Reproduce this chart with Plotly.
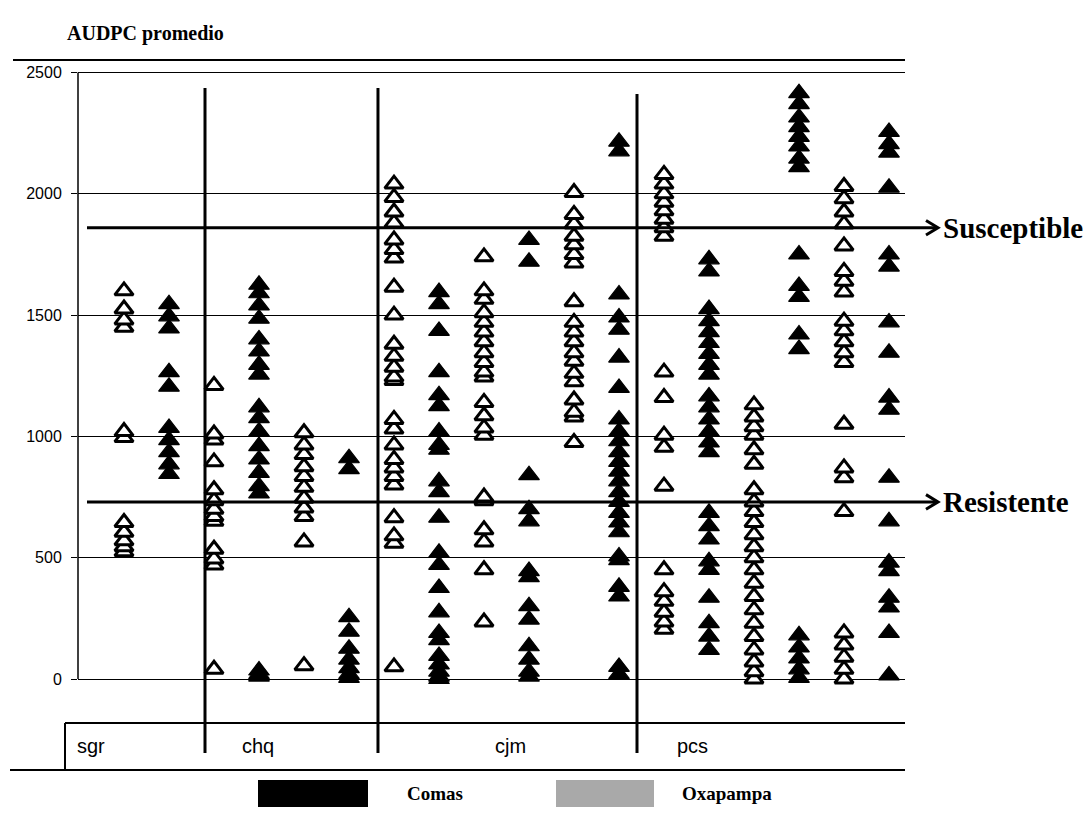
import plotly.graph_objects as go

# AUDPC promedio per clone, one list per column (Oxapampa = open, Comas = filled)
sgr_oxa = [1600, 1525, 1480, 1450, 1020, 995, 645, 605, 570, 545, 525]
sgr_comas = [1545, 1495, 1445, 1265, 1205, 1035, 985, 935, 885, 845]

chq_oxa_a = [1210, 1010, 985, 895, 780, 735, 700, 670, 650, 535, 495, 470, 40]
chq_comas_a = [1625, 1590, 1540, 1485, 1400, 1350, 1295, 1255, 1120, 1075, 1020,
               960, 905, 850, 795, 765, 35, 20, 10]
chq_oxa_b = [1015, 965, 925, 875, 835, 790, 745, 705, 670, 565, 55]
chq_comas_b = [910, 865, 255, 195, 125, 80, 45, 20, 5]

cjm_oxa_a = [2040, 1985, 1925, 1880, 1810, 1770, 1735, 1615, 1500, 1380, 1330, 1285,
             1245, 1230, 1070, 1030, 965, 905, 870, 835, 800, 665, 590, 560, 50]
cjm_comas_a = [1595, 1545, 1435, 1265, 1170, 1125, 1020, 965, 945, 815, 770, 665,
               520, 470, 375, 275, 190, 160, 95, 60, 30, 10, 0]
cjm_oxa_b = [1740, 1600, 1565, 1510, 1470, 1430, 1390, 1345, 1305, 1265, 1245, 1140,
             1085, 1035, 1005, 750, 735, 615, 565, 450, 235]
cjm_comas_b = [1810, 1720, 840, 700, 650, 445, 420, 300, 245, 135, 80, 30, 10]
cjm_oxa_c = [2005, 1915, 1875, 1825, 1790, 1750, 1715, 1555, 1470, 1430, 1390, 1345,
             1310, 1260, 1225, 1150, 1100, 1080, 975]
cjm_comas_c = [2215, 2175, 1585, 1490, 1440, 1325, 1200, 1070, 1020, 980, 935, 895,
               855, 815, 770, 730, 685, 645, 605, 505, 490, 380, 340, 50, 20]

pcs_oxa_a = [2080, 2040, 2000, 1965, 1930, 1895, 1860, 1825, 1265, 1160, 1005, 955,
             795, 450, 360, 320, 275, 235, 205]
pcs_comas_a = [1730, 1680, 1525, 1475, 1430, 1385, 1340, 1295, 1255, 1165, 1120, 1070,
               1020, 975, 935, 685, 630, 575, 485, 450, 335, 230, 175, 120]
pcs_oxa_b = [1130, 1080, 1040, 1005, 945, 885, 780, 730, 690, 645, 595, 545, 500, 450,
             395, 340, 285, 230, 175, 120, 70, 30, 0]
pcs_comas_b = [2415, 2370, 2315, 2275, 2235, 2195, 2145, 2110, 1750, 1620, 1575, 1420,
               1360, 180, 130, 85, 40, 5]
pcs_oxa_c = [2030, 1980, 1925, 1875, 1785, 1680, 1640, 1595, 1475, 1435, 1390, 1345,
             1305, 1050, 870, 830, 690, 190, 140, 90, 40, 0]
pcs_comas_c = [2255, 2205, 2170, 2025, 1750, 1700, 1470, 1345, 1160, 1110, 830, 650,
               480, 445, 335, 295, 190, 15]

groups = ["sgr", "chq", "cjm", "pcs"]
y_ticks = [0, 500, 1000, 1500, 2000, 2500]
SUSCEPTIBLE = 1860
RESISTENTE = 730

# columns in drawing order; the x position is the column index
columns = [
    ("Oxapampa", sgr_oxa), ("Comas", sgr_comas),
    ("Oxapampa", chq_oxa_a), ("Comas", chq_comas_a),
    ("Oxapampa", chq_oxa_b), ("Comas", chq_comas_b),
    ("Oxapampa", cjm_oxa_a), ("Comas", cjm_comas_a),
    ("Oxapampa", cjm_oxa_b), ("Comas", cjm_comas_b),
    ("Oxapampa", cjm_oxa_c), ("Comas", cjm_comas_c),
    ("Oxapampa", pcs_oxa_a), ("Comas", pcs_comas_a),
    ("Oxapampa", pcs_oxa_b), ("Comas", pcs_comas_b),
    ("Oxapampa", pcs_oxa_c), ("Comas", pcs_comas_c),
]

# page geometry (pixels) for the plot box
W, H = 1091, 819
L, R, T, B = 78, 905, 60, 770


def px(xp):
    return (xp - L) / (R - L)


def py(yp):
    return (B - yp) / (B - T)


SERIF = "Liberation Serif"
SANS = "Liberation Sans"

pts = {"Oxapampa": ([], []), "Comas": ([], [])}
for k, (site, vals) in enumerate(columns):
    for v in sorted(vals):
        pts[site][0].append(k)
        pts[site][1].append(v)

fig = go.Figure()
fig.add_trace(go.Scatter(
    x=pts["Comas"][0], y=pts["Comas"][1], mode="markers", name="Comas",
    marker=dict(symbol="triangle-up", size=18, color="black",
                line=dict(color="black", width=1.2)),
    cliponaxis=False, showlegend=False,
))
fig.add_trace(go.Scatter(
    x=pts["Oxapampa"][0], y=pts["Oxapampa"][1], mode="markers", name="Oxapampa",
    marker=dict(symbol="triangle-up", size=16, color="white",
                line=dict(color="black", width=3)),
    cliponaxis=False, showlegend=False,
))

shapes = []

# frame: top rule, left axis, category box
shapes.append(dict(type="line", xref="paper", yref="paper", x0=px(13), x1=1,
                   y0=py(60), y1=py(60), line=dict(color="black", width=2)))
shapes.append(dict(type="line", xref="paper", yref="y", x0=0, x1=0,
                   y0=0, y1=2500, line=dict(color="black", width=1.5)))
shapes.append(dict(type="line", xref="paper", yref="paper", x0=px(65), x1=1,
                   y0=py(723), y1=py(723), line=dict(color="black", width=2)))
shapes.append(dict(type="line", xref="paper", yref="paper", x0=px(10), x1=1,
                   y0=py(770), y1=py(770), line=dict(color="black", width=2)))
shapes.append(dict(type="line", xref="paper", yref="paper", x0=px(65), x1=px(65),
                   y0=py(723), y1=py(770), line=dict(color="black", width=2)))

# group separators
for xd, top in [(1.8, 88), (5.644, 88), (11.4, 94)]:
    shapes.append(dict(type="line", xref="x", yref="paper", x0=xd, x1=xd,
                       y0=py(top), y1=py(753), line=dict(color="black", width=3)))

# threshold rules with arrow heads
head = 30
for val in (SUSCEPTIBLE, RESISTENTE):
    shapes.append(dict(type="line", xref="paper", yref="y", x0=px(87), x1=px(937),
                       y0=val, y1=val, line=dict(color="black", width=3)))
    shapes.append(dict(type="path", xref="paper", yref="y",
                       path=f"M {px(926)},{val + head} L {px(938)},{val} L {px(926)},{val - head}",
                       line=dict(color="black", width=3)))

# legend swatches
shapes.append(dict(type="rect", xref="paper", yref="paper", x0=px(258), x1=px(368),
                   y0=py(807), y1=py(780), fillcolor="black", line=dict(width=0)))
shapes.append(dict(type="rect", xref="paper", yref="paper", x0=px(556), x1=px(654),
                   y0=py(807), y1=py(780), fillcolor="#a9a9a9", line=dict(width=0)))

annotations = [
    dict(text="<b>AUDPC promedio</b>", xref="paper", yref="paper", x=px(65), y=py(33),
         xanchor="left", yanchor="middle", showarrow=False,
         font=dict(family=SERIF, size=20, color="black")),
    dict(text="<b>Susceptible</b>", xref="paper", yref="y", x=px(941), y=SUSCEPTIBLE,
         xanchor="left", yanchor="middle", showarrow=False,
         font=dict(family=SERIF, size=29, color="black")),
    dict(text="<b>Resistente</b>", xref="paper", yref="y", x=px(941), y=RESISTENTE,
         xanchor="left", yanchor="middle", showarrow=False,
         font=dict(family=SERIF, size=29, color="black")),
    dict(text="<b>Comas</b>", xref="paper", yref="paper", x=px(405), y=py(793),
         xanchor="left", yanchor="middle", showarrow=False,
         font=dict(family=SERIF, size=19, color="black")),
    dict(text="<b>Oxapampa</b>", xref="paper", yref="paper", x=px(680), y=py(793),
         xanchor="left", yanchor="middle", showarrow=False,
         font=dict(family=SERIF, size=19, color="black")),
]
for name, cx in zip(groups, [91, 258, 510, 692]):
    annotations.append(dict(text=name, xref="paper", yref="paper", x=px(cx), y=py(746),
                            xanchor="center", yanchor="middle", showarrow=False,
                            font=dict(family=SANS, size=20, color="black")))

fig.update_layout(
    width=W, height=H,
    margin=dict(l=L, r=W - R, t=T, b=H - B, pad=0),
    paper_bgcolor="white", plot_bgcolor="white",
    showlegend=False,
    xaxis=dict(range=[(L - 124) / 45, (R - 124) / 45], visible=False,
               showgrid=False, zeroline=False, fixedrange=True),
    yaxis=dict(range=[-375.1, 2551.5], tickvals=y_ticks,
               ticktext=[str(v) for v in y_ticks],
               showgrid=True, gridcolor="black", gridwidth=1.4,
               zeroline=False, showline=False,
               ticks="outside", ticklen=6, tickwidth=1.4, tickcolor="black",
               ticklabelstandoff=6,
               tickfont=dict(family=SANS, size=16, color="black"),
               fixedrange=True),
    shapes=shapes,
    annotations=annotations,
)

fig.write_html("out.html")
